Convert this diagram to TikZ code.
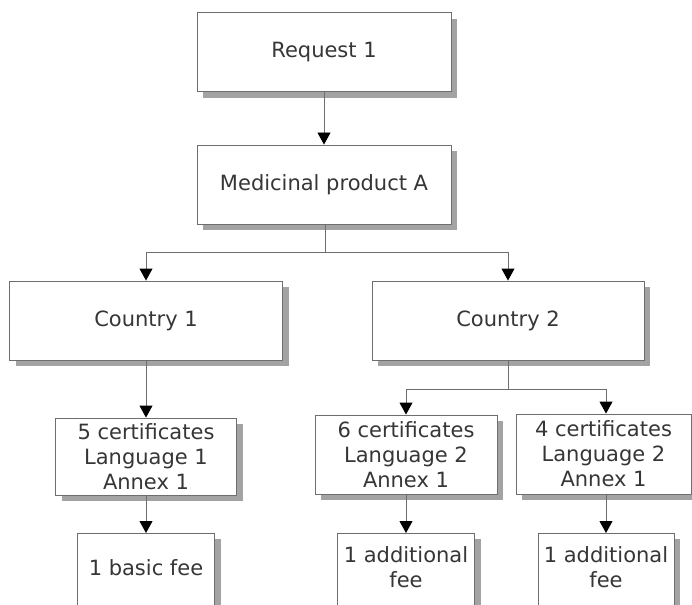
\documentclass[tikz,border=0pt]{standalone}
\usepackage{fontspec}
\setmainfont{DejaVu Sans}
\usetikzlibrary{arrows.meta,shadows}
\definecolor{edge}{HTML}{6E6E6E}
\definecolor{ink}{HTML}{363636}
\definecolor{shade}{HTML}{A3A3A3}
\begin{document}
\begin{tikzpicture}[x=1pt,y=-1pt,
  box/.style={draw=edge, line width=0.9pt, fill=white, text=ink, align=center,
    inner sep=0pt, font=\fontsize{21}{25}\selectfont,
    drop shadow={shadow xshift=6pt, shadow yshift=-6pt, fill=shade, opacity=1}},
  feebox/.style={box, anchor=north, minimum height=80pt, text depth=12pt},
  link/.style={draw=edge, line width=0.9pt},
  arr/.style={link, -{Triangle[width=13pt,length=12pt,fill=black,color=black]}}]
\useasboundingbox (0,0) rectangle (692,604);
\clip (0,0) rectangle (692,604);

% top of the tree
\node[box, minimum width=254pt, minimum height=79pt] (req) at (324,52.3) {Request 1};
\node[box, minimum width=254pt, minimum height=79pt] (med) at (324,184.5) {Medicinal product A};

% countries
\node[box, minimum width=273pt, minimum height=79pt] (c1) at (146,320.5) {Country 1};
\node[box, minimum width=272pt, minimum height=79pt] (c2) at (508,320.5) {Country 2};

% certificate groups
\node[box, minimum width=181pt, minimum height=77pt] (k5) at (146,456.5) {5 certificates\\Language 1\\Annex 1};
\node[box, minimum width=182pt, minimum height=79pt] (k6) at (406,454.5) {6 certificates\\Language 2\\Annex 1};
\node[box, minimum width=175pt, minimum height=80pt] (k4) at (603.5,454) {4 certificates\\Language 2\\Annex 1};

% fees
\node[feebox, minimum width=137pt] (f1) at (146,533) {1 basic fee};
\node[feebox, minimum width=137pt] (f6) at (406,533) {1 additional\\fee};
\node[feebox, minimum width=136pt] (f4) at (606,533) {1 additional\\fee};

% connectors
\coordinate (j1) at (325,252);
\coordinate (j2) at (508,389);
\coordinate (a4) at (606,389);

\draw[arr] (req) -- (med);
\draw[link] (med.south -| j1) -- (j1);
\draw[arr] (j1) -| (c1.north);
\draw[arr] (j1) -| (c2.north);

\draw[arr] (c1) -- (k5);
\draw[arr] (k5) -- (f1);

\draw[link] (c2.south) -- (j2);
\draw[arr] (j2) -| (k6.north);
\draw[arr] (j2) -- (a4) -- (a4 |- k4.north);
\draw[arr] (k6) -- (f6);
\draw[arr] (k4.south -| a4) -- (f4.north);
\end{tikzpicture}
\end{document}
